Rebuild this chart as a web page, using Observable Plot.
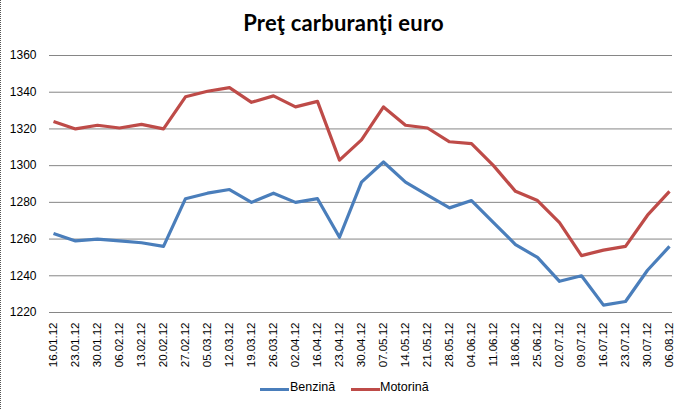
<!DOCTYPE html>
<html>
<head>
<meta charset="utf-8">
<script src="https://cdn.jsdelivr.net/npm/d3@7"></script>
<script src="https://cdn.jsdelivr.net/npm/@observablehq/plot@0.6"></script>
<style>
  html, body { margin: 0; padding: 0; background: #fff; }
  #wrap { position: relative; width: 687px; height: 409px; overflow: hidden; background: #fff; }
  #edge { position: absolute; left: 0; top: 0; width: 0; height: 409px; border-left: 1px dotted #555; }
  #title { position: absolute; left: 0; top: 9px; width: 687px; text-align: center;
           font-family: Lato, "Open Sans", sans-serif; font-weight: bold; font-size: 22px; letter-spacing: 0.2px; color: #000; }
  #chart { position: absolute; left: 0; top: 45px; }
  .leg { position: absolute; top: 380px; font-family: "Liberation Sans", Arial, sans-serif; font-size: 12.5px; color: #000; }
  .sw { position: absolute; height: 3px; top: 388px; }
</style>
</head>
<body>
<div id="wrap">
  <div id="edge"></div>
  <div id="title">Preţ carburanţi euro</div>
  <div id="chart"></div>
  <div id="legend"></div>
</div>
<script>
const dates = ["16.01.12","23.01.12","30.01.12","06.02.12","13.02.12","20.02.12","27.02.12","05.03.12","12.03.12","19.03.12","26.03.12","02.04.12","16.04.12","23.04.12","30.04.12","07.05.12","14.05.12","21.05.12","28.05.12","04.06.12","11.06.12","18.06.12","25.06.12","02.07.12","09.07.12","16.07.12","23.07.12","30.07.12","06.08.12"];
const benzina = [1263,1259,1260,1259,1258,1256,1282,1285,1287,1280,1285,1280,1282,1261,1291,1302,1291,1284,1277,1281,1269,1257,1250,1237,1240,1224,1226,1243,1256];
const motorina = [1324,1320,1322,1320.5,1322.5,1320,1337.5,1340.5,1342.5,1334.5,1338,1332,1335,1303,1314,1332,1322,1320.5,1313,1312,1300,1286,1281,1269,1251,1254,1256,1273,1286];
const seriesNames = ["Benzină","Motorină"];
const seriesColors = ["#4A7EBB","#BE4B48"];
const yTicks = [1220,1240,1260,1280,1300,1320,1340,1360];

const data = [];
dates.forEach((d,i) => {
  data.push({date:d, value:benzina[i], series:seriesNames[0]});
  data.push({date:d, value:motorina[i], series:seriesNames[1]});
});

const chart = Plot.plot({
  width: 687,
  height: 330,
  marginLeft: 49,
  marginRight: 15,
  marginTop: 10,
  marginBottom: 63,
  style: {fontFamily: "'Liberation Sans', Arial, sans-serif", background: "transparent", color: "#000"},
  x: {type: "point", domain: dates, padding: 0},
  y: {domain: [1220, 1360]},
  color: {domain: seriesNames, range: seriesColors},
  marks: [
    Plot.ruleY(yTicks, {stroke: "#868686", strokeWidth: 1}),
    Plot.axisY({ticks: yTicks, tickSize: 0, tickPadding: 13, fontSize: 12, label: null, tickFormat: d => String(d)}),
    Plot.axisX({tickRotate: -90, tickSize: 0, tickPadding: 10, fontSize: 11.5, label: null}),
    Plot.line(data, {x: "date", y: "value", z: "series", stroke: "series", strokeWidth: 3.2, strokeLinejoin: "round", strokeLinecap: "butt"})
  ]
});
document.getElementById("chart").appendChild(chart);

const legend = document.getElementById("legend");
const legPos = [{sw: 260, tx: 290}, {sw: 351, tx: 380}];
seriesNames.forEach((name, i) => {
  const sw = document.createElement("div");
  sw.className = "sw";
  sw.style.left = legPos[i].sw + "px";
  sw.style.width = "29px";
  sw.style.background = seriesColors[i];
  legend.appendChild(sw);
  const t = document.createElement("div");
  t.className = "leg";
  t.style.left = legPos[i].tx + "px";
  t.textContent = name;
  legend.appendChild(t);
});
</script>
</body>
</html>
